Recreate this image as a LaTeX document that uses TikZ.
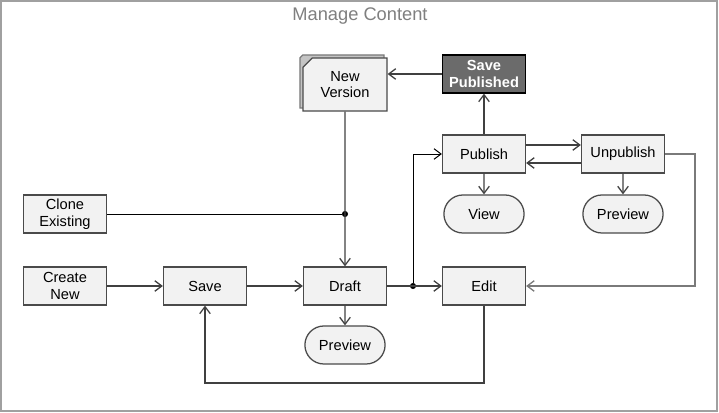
\documentclass[tikz,border=0pt]{standalone}
\usepackage{fontspec}
\setmainfont{Liberation Sans}
\usepackage{xcolor}
\usetikzlibrary{arrows.meta,shapes.misc}

\definecolor{boxfill}{HTML}{F2F2F2}
\definecolor{boxline}{HTML}{4A4A4A}
\definecolor{linegray}{HTML}{404040}
\definecolor{midgray}{HTML}{7A7A7A}
\definecolor{darkfill}{HTML}{6B6B6B}
\definecolor{shadowgray}{HTML}{C4C4C4}
\definecolor{framegray}{HTML}{A0A0A0}
\definecolor{titlegray}{HTML}{7F7F7F}

\begin{document}
\begin{tikzpicture}[x=0.025cm, y=-0.025cm,
    box/.style={draw=boxline, fill=boxfill, line width=0.9pt, minimum width=2.075cm,
        minimum height=0.95cm, inner sep=1pt, align=center, font=\fontsize{10.4}{12}\selectfont},
    term/.style={box, rounded rectangle},
    verbox/.style={box, chamfered rectangle, chamfered rectangle corners=north west,
        chamfered rectangle xsep=3pt, minimum width=2.1cm, minimum height=1.325cm},
    arr/.style={draw=linegray, line width=0.9pt, -{Straight Barb[length=5pt,width=7.5pt]}},
    blk/.style={draw=black, line width=0.7pt},
    dot/.style={circle, fill=black, inner sep=0pt, minimum size=4.3pt}]
    \useasboundingbox (0,0) rectangle (719,413);
    \draw[framegray, line width=0.8pt] (1,1) rectangle (717,411);
    \node[text=titlegray, font=\fontsize{13}{15}\selectfont] (title) at (360,16) {Manage Content};

    \node[verbox, fill=shadowgray, draw=midgray] (verback) at (342,81.5) {};
    \node[verbox] (newver) at (345,84.5) {New\\Version};
    \node[box, fill=darkfill, draw=black, text=white,
        font=\bfseries\fontsize{10.4}{12}\selectfont] (savepub) at (484,74) {Save\\Published};
    \node[box] (publish) at (484,154) {Publish};
    \node[box] (unpublish) at (623,154) {Unpublish};
    \node[term] (view) at (484,214) {View};
    \node[term] (prevpub) at (623,214) {Preview};
    \node[box] (clone) at (65,214) {Clone\\Existing};
    \node[box] (create) at (65,286) {Create\\New};
    \node[box] (save) at (205,286) {Save};
    \node[box] (draft) at (345,286) {Draft};
    \node[box] (edit) at (484,286) {Edit};
    \node[term] (prevdraft) at (345,345) {Preview};

    \node[dot] (j1) at (345,214) {};
    \node[dot] (j2) at (413,286) {};
    \coordinate (rturn) at (695,154);
    \coordinate (lturn) at (484,383);

    \draw[arr] (savepub.west) -- (savepub.west -| newver.east);
    \draw[arr] (publish) -- (savepub);
    \draw[blk] (clone) -- (j1);
    \draw[arr] (newver) -- (draft);
    \draw[arr] (create) -- (save);
    \draw[arr] (save) -- (draft);
    \draw[arr] (draft) -- (edit);
    \draw[arr] (draft) -- (prevdraft);
    \draw[arr, draw=black, line width=0.7pt] (j2) |- (publish);
    \draw[arr] ([yshift=6.4pt]publish.east) -- ([yshift=6.4pt]unpublish.west);
    \draw[arr] ([yshift=-6.4pt]unpublish.west) -- ([yshift=-6.4pt]publish.east);
    \draw[arr] (publish) -- (view);
    \draw[arr] (unpublish) -- (prevpub);
    \draw[arr, draw=midgray] (unpublish.east) -- (rturn) |- (edit.east);
    \draw[arr] (edit.south) -- (lturn) -| (save.south);
\end{tikzpicture}
\end{document}
